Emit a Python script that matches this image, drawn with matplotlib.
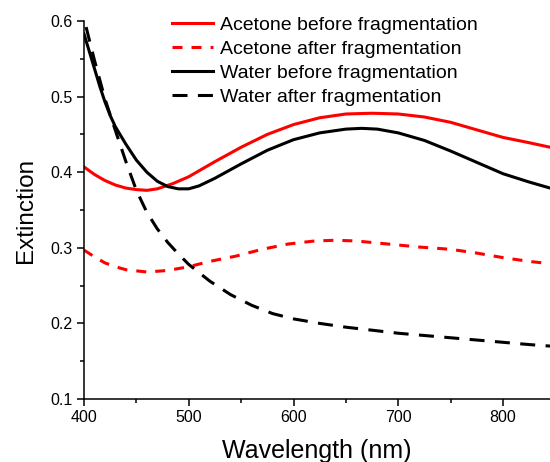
import matplotlib
matplotlib.use("Agg")
import matplotlib.pyplot as plt
from matplotlib.ticker import MultipleLocator

plt.rcParams['font.family'] = ['Liberation Sans', 'DejaVu Sans']
plt.rcParams['lines.scale_dashes'] = False

# Acetone before fragmentation (red solid)
wl_ab = [400, 410, 420, 430, 440, 450, 460, 470, 485, 500, 525, 550, 575, 600,
         625, 650, 675, 700, 725, 750, 775, 800, 825, 845]
ext_ab = [0.407, 0.397, 0.389, 0.383, 0.379, 0.377, 0.376, 0.378, 0.385, 0.394,
          0.414, 0.433, 0.450, 0.463, 0.472, 0.477, 0.478, 0.477, 0.473, 0.466,
          0.456, 0.446, 0.439, 0.433]

# Acetone after fragmentation (red dashed)
wl_aa = [400, 410, 420, 430, 440, 460, 480, 500, 520, 545, 570, 595, 620, 640,
         660, 690, 720, 750, 775, 800, 825, 845]
ext_aa = [0.297, 0.288, 0.280, 0.275, 0.271, 0.268, 0.270, 0.275, 0.282, 0.289,
          0.298, 0.305, 0.309, 0.310, 0.309, 0.305, 0.301, 0.298, 0.293, 0.287,
          0.282, 0.279]

# Water before fragmentation (black solid)
wl_wb = [400, 405, 410, 415, 420, 425, 430, 440, 450, 460, 470, 480, 490, 500,
         510, 525, 550, 575, 600, 625, 650, 665, 680, 700, 725, 750, 775, 800, 825, 845]
ext_wb = [0.583, 0.560, 0.537, 0.514, 0.493, 0.475, 0.460, 0.437, 0.416, 0.400,
          0.388, 0.381, 0.378, 0.378, 0.382, 0.392, 0.411, 0.429, 0.443, 0.452,
          0.457, 0.458, 0.457, 0.452, 0.442, 0.428, 0.413, 0.398, 0.387, 0.379]

# Water after fragmentation (black dashed)
wl_wa = [402, 410, 420, 430, 440, 450, 460, 470, 480, 490, 500, 520, 540, 560,
         580, 600, 625, 650, 675, 700, 725, 750, 775, 800, 825, 845]
ext_wa = [0.592, 0.548, 0.497, 0.455, 0.414, 0.376, 0.347, 0.325, 0.307, 0.292,
          0.278, 0.256, 0.238, 0.224, 0.213, 0.206, 0.200, 0.195, 0.191, 0.187,
          0.184, 0.181, 0.178, 0.175, 0.172, 0.170]

labels = ["Acetone before fragmentation", "Acetone after fragmentation",
          "Water before fragmentation", "Water after fragmentation"]

fig = plt.figure(figsize=(5.5, 4.62), dpi=100)
ax = fig.add_axes([84/550, 1 - 399/462, 1 - 84/550, (399 - 21)/462])

lw = 2.2
ax.plot(wl_ab, ext_ab, color='#ff0000', lw=lw, label=labels[0])
ax.plot(wl_aa, ext_aa, color='#ff0000', lw=lw, dashes=(7.2, 6.5), label=labels[1])
ax.plot(wl_wb, ext_wb, color='black', lw=lw, label=labels[2])
ax.plot(wl_wa, ext_wa, color='black', lw=lw, dashes=(10.8, 7.5), label=labels[3])

ax.set_xlim(400, 400 + 466 / 1.0475)
ax.set_ylim(0.1, 0.6)
ax.xaxis.set_major_locator(MultipleLocator(100))
ax.xaxis.set_minor_locator(MultipleLocator(50))
ax.yaxis.set_minor_locator(MultipleLocator(0.05))
ax.set_yticks([0.1, 0.2, 0.3, 0.4, 0.5, 0.6])
ax.set_yticklabels(["0.1", "0.2", "0.3", "0.4", "0.5", "0.6"])

for s in ['top', 'right']:
    ax.spines[s].set_visible(False)
for s in ['left', 'bottom']:
    ax.spines[s].set_linewidth(1.1)
ax.tick_params(which='major', direction='out', length=4.8, width=1.1, labelsize=11.5)
ax.tick_params(axis='x', which='major', pad=3.2)
ax.tick_params(axis='y', which='major', pad=3.6)
ax.tick_params(which='minor', direction='out', length=2.9, width=1.1)

ax.set_xlabel("Wavelength (nm)", fontsize=18, labelpad=10)
ax.set_ylabel("Extinction", fontsize=17.5, labelpad=9)

leg = ax.legend(loc='upper left', bbox_to_anchor=((172 - 84) / 466, 1.0115),
                frameon=False, fontsize=14, handlelength=2.1, handletextpad=0.35,
                labelspacing=0.32, borderpad=0, borderaxespad=0)

fig.savefig("out.png", dpi=100)
